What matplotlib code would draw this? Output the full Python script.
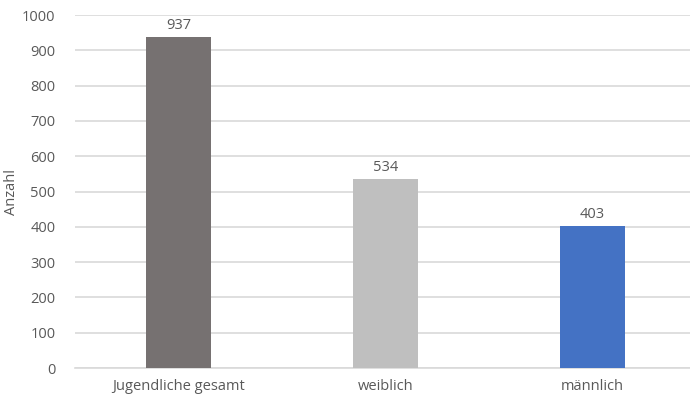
import matplotlib
matplotlib.use("Agg")
import matplotlib.pyplot as plt

categories = ["Jugendliche gesamt", "weiblich", "männlich"]
values = [937, 534, 403]
colors = ["#767171", "#bfbfbf", "#4472c4"]
yticks = [0, 100, 200, 300, 400, 500, 600, 700, 800, 900, 1000]

plt.rcParams["font.family"] = ["Open Sans", "DejaVu Sans"]
text_color = "#595959"
grid_color = "#d9d9d9"

fig = plt.figure(figsize=(6.9, 3.97), dpi=100)
W, H = 690, 397
x0, x1 = 75, 696
y0, y1 = 368, 15
ax = fig.add_axes([x0 / W, 1 - y0 / H, (x1 - x0) / W, (y0 - y1) / H])

xs = range(len(categories))
bars = ax.bar(xs, values, width=0.314, color=colors, zorder=3)
for b, v in zip(bars, values):
    ax.text(b.get_x() + b.get_width() / 2, v + 12, str(v), ha="center",
            va="bottom", fontsize=10.5, color=text_color)

ax.set_xlim(-0.5, 2.5)
ax.set_ylim(0, 1000)
ax.set_yticks(yticks)
ax.set_xticks(list(xs))
ax.set_xticklabels(categories)
ax.tick_params(axis="both", length=0, colors=text_color, labelsize=10.5)
ax.tick_params(axis="y", pad=14)
ax.tick_params(axis="x", pad=8)
ax.yaxis.grid(True, color=grid_color, linewidth=1.2, zorder=0)
for s in ["top", "right", "left"]:
    ax.spines[s].set_visible(False)
ax.spines["bottom"].set_color(grid_color)
ax.spines["bottom"].set_linewidth(1.2)
ax.set_ylabel("Anzahl", color=text_color, fontsize=10.5)
ax.yaxis.set_label_coords((19 - x0) / (x1 - x0), 0.5)

fig.savefig("out.png", dpi=100)
